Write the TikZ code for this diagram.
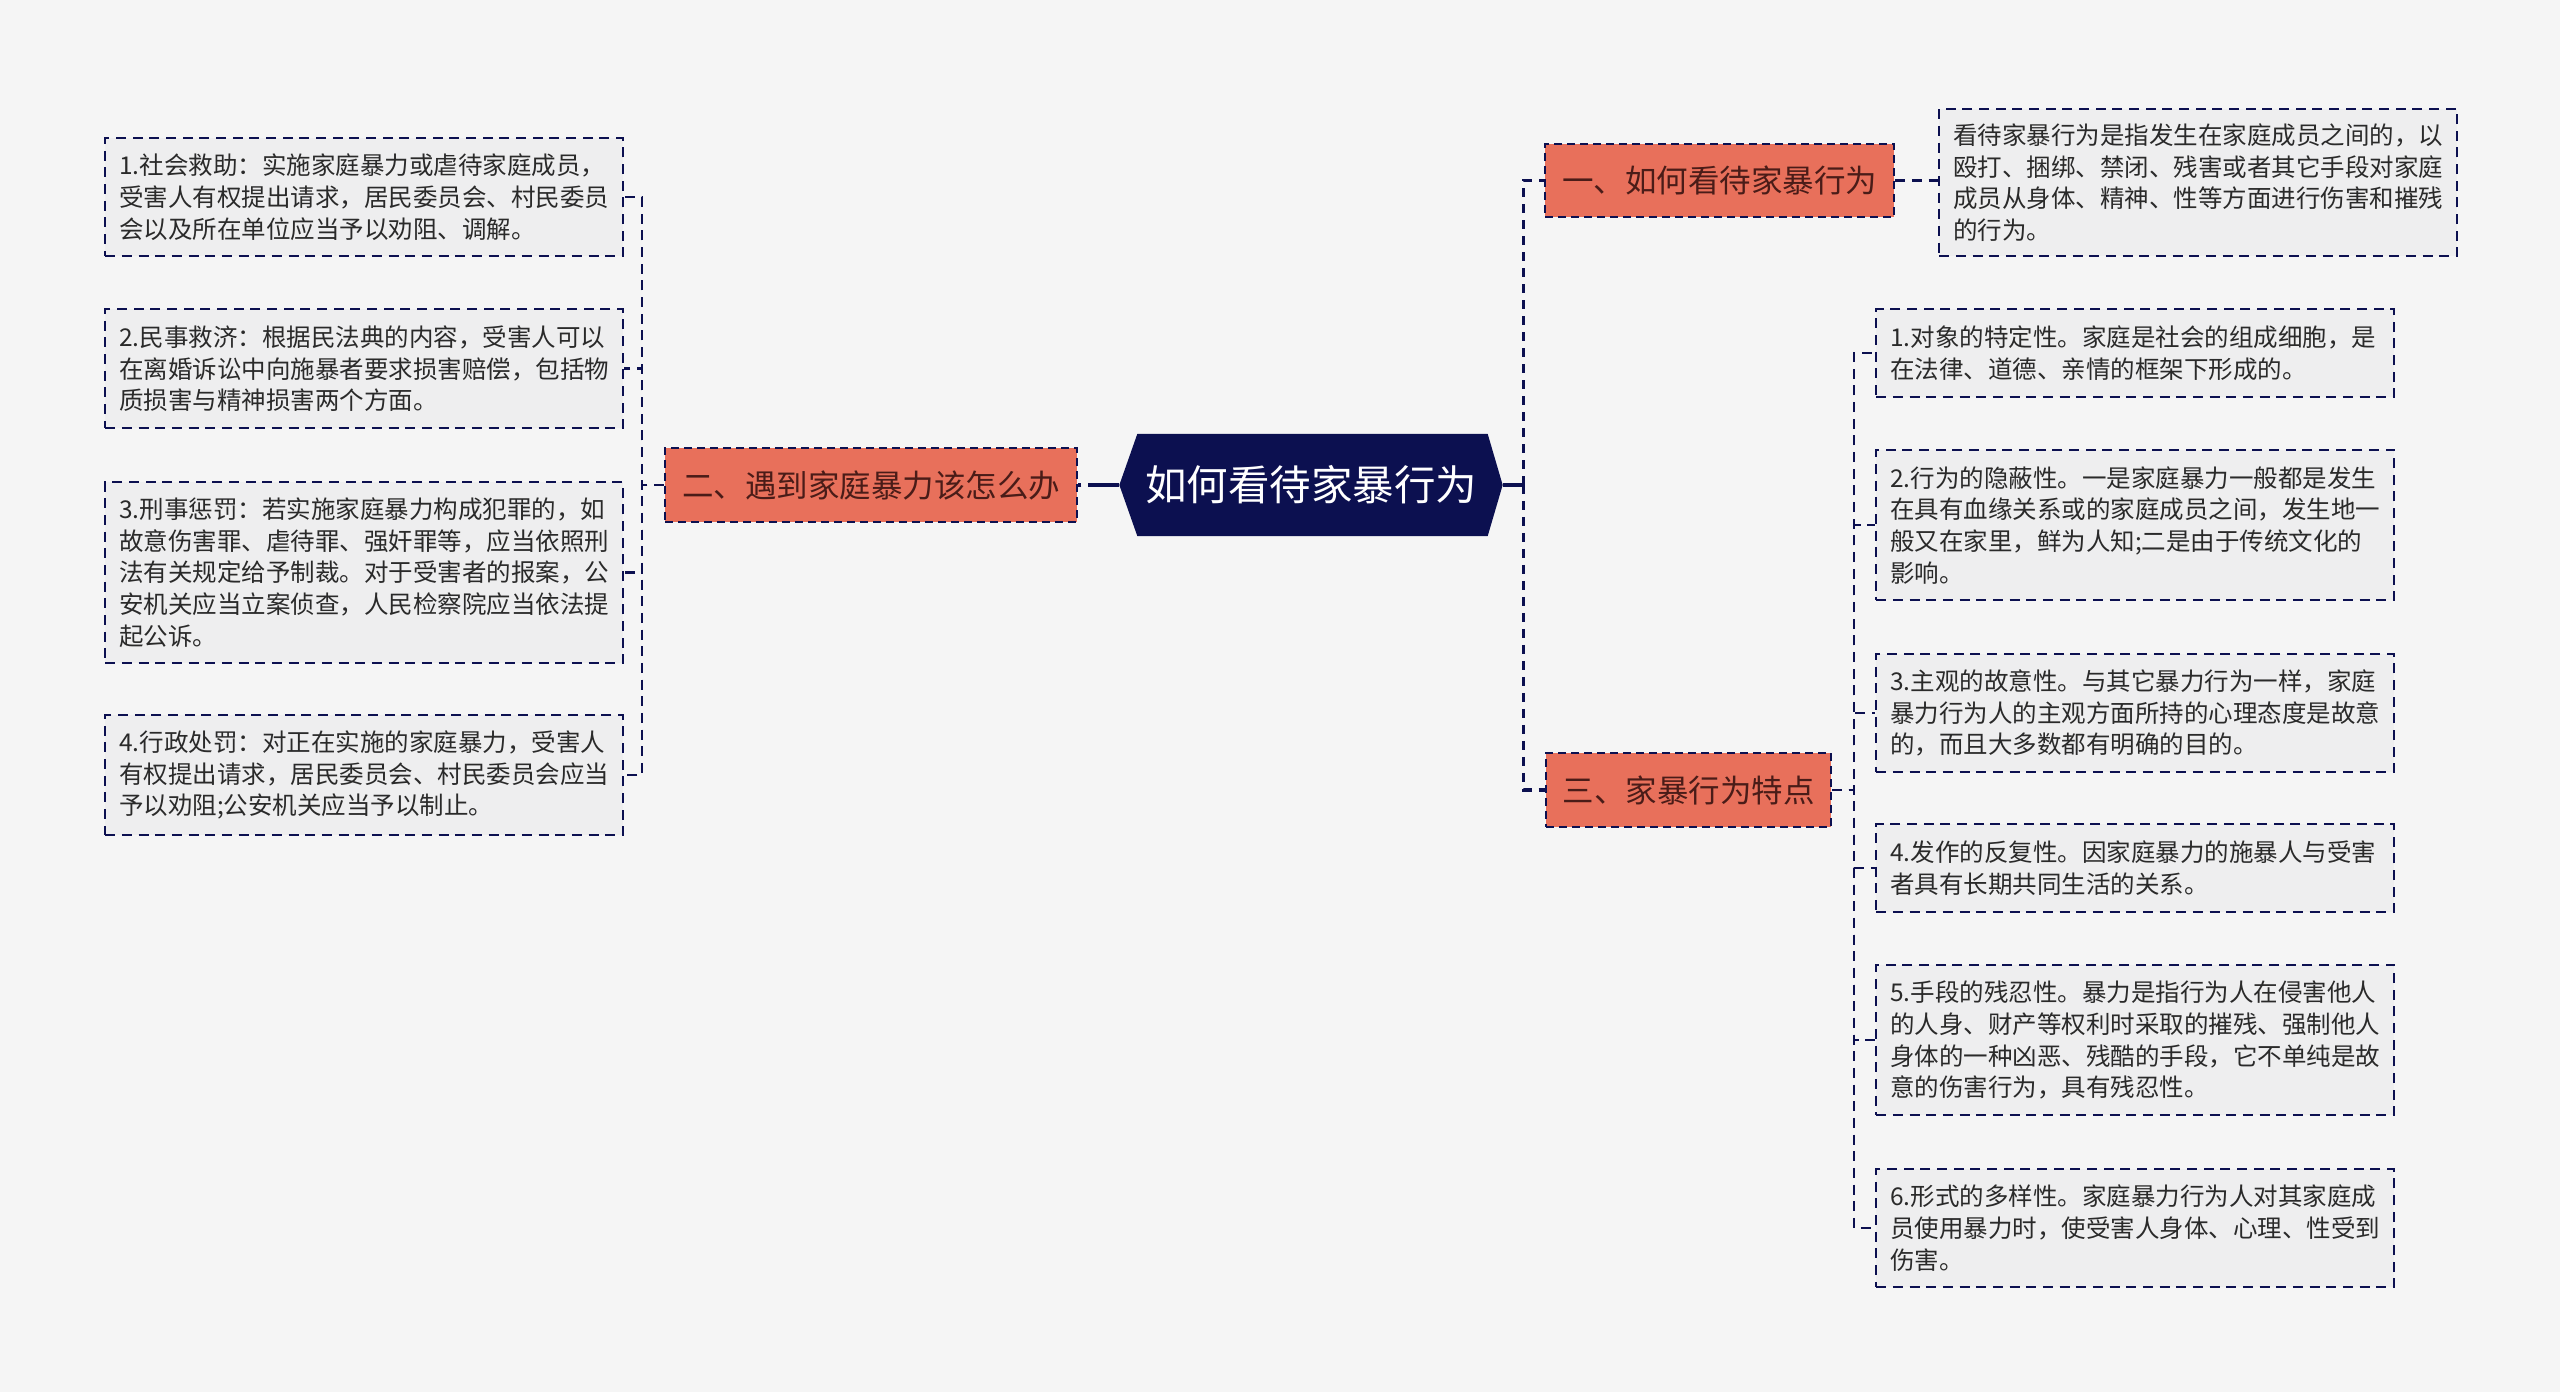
\documentclass[tikz,border=0pt]{standalone}
\usepackage{fontspec}
\setmainfont{Noto Sans CJK SC}
\usetikzlibrary{backgrounds}
\definecolor{bgcol}{HTML}{F5F5F5}
\definecolor{navy}{HTML}{0C1050}
\definecolor{coral}{HTML}{E8705B}
\definecolor{brown}{HTML}{4A1C18}
\definecolor{boxfill}{HTML}{EEEEEF}
\definecolor{txt}{HTML}{2A2A2A}
\tikzset{
  branch/.style={draw=navy, line width=0.75pt, dash pattern=on 2.4pt off 1.5pt, fill=coral, text=brown,
    inner sep=0pt, font={\fontsize{9.45}{11}\selectfont}},
  leaf/.style={draw=navy, line width=0.7pt, dash pattern=on 3pt off 2pt, fill=boxfill, text=txt,
    anchor=north west, minimum width=155.4pt, text width=147pt, inner xsep=4.2pt, inner ysep=0pt,
    align=left, font={\fontsize{7.35}{9.5}\selectfont}},
  mainsolid/.style={draw=navy, line width=1pt},
  maindash/.style={draw=navy, line width=1pt, dash pattern=on 2.7pt off 2.1pt},
  childdash/.style={draw=navy, line width=0.7pt, dash pattern=on 3pt off 2pt},
}
\begin{document}
\begin{tikzpicture}[x=0.3pt, y=-0.3pt]
\useasboundingbox (0,0) rectangle (2560,1392);

% central node
\node[inner sep=0pt, minimum width=114.6pt, minimum height=30.3pt, text=white,
      font={\fontsize{12.45}{14}\selectfont}] (c) at (1311,485) {如何看待家暴行为};

% branches
\node[branch, minimum width=104.7pt, minimum height=21.9pt] (b1) at (1719.5,180.5) {一、如何看待家暴行为};
\node[branch, minimum width=123.6pt, minimum height=22.2pt] (b2) at (871,485) {二、遇到家庭暴力该怎么办};
\node[branch, minimum width=85.5pt, minimum height=22.2pt] (b3) at (1688.5,790) {三、家暴行为特点};

% leaves, left
\node[leaf, minimum height=35.4pt] (L1) at (104,137) {1.社会救助：实施家庭暴力或虐待家庭成员，\\受害人有权提出请求，居民委员会、村民委员\\会以及所在单位应当予以劝阻、调解。};
\node[leaf, minimum height=35.7pt] (L2) at (104,308) {2.民事救济：根据民法典的内容，受害人可以\\在离婚诉讼中向施暴者要求损害赔偿，包括物\\质损害与精神损害两个方面。};
\node[leaf, minimum height=54.3pt] (L3) at (104,481) {3.刑事惩罚：若实施家庭暴力构成犯罪的，如\\故意伤害罪、虐待罪、强奸罪等，应当依照刑\\法有关规定给予制裁。对于受害者的报案，公\\安机关应当立案侦查，人民检察院应当依法提\\起公诉。};
\node[leaf, minimum height=36pt] (L4) at (104,714) {4.行政处罚：对正在实施的家庭暴力，受害人\\有权提出请求，居民委员会、村民委员会应当\\予以劝阻;公安机关应当予以制止。};

% leaves, right
\node[leaf, minimum height=44.1pt] (R0) at (1938,108) {看待家暴行为是指发生在家庭成员之间的，以\\殴打、捆绑、禁闭、残害或者其它手段对家庭\\成员从身体、精神、性等方面进行伤害和摧残\\的行为。};
\node[leaf, minimum height=26.4pt] (R1) at (1875,308) {1.对象的特定性。家庭是社会的组成细胞，是\\在法律、道德、亲情的框架下形成的。};
\node[leaf, minimum height=45pt] (R2) at (1875,449) {2.行为的隐蔽性。一是家庭暴力一般都是发生\\在具有血缘关系或的家庭成员之间，发生地一\\般又在家里，鲜为人知;二是由于传统文化的\\影响。};
\node[leaf, minimum height=35.4pt] (R3) at (1875,653) {3.主观的故意性。与其它暴力行为一样，家庭\\暴力行为人的主观方面所持的心理态度是故意\\的，而且大多数都有明确的目的。};
\node[leaf, minimum height=26.4pt] (R4) at (1875,823) {4.发作的反复性。因家庭暴力的施暴人与受害\\者具有长期共同生活的关系。};
\node[leaf, minimum height=45pt] (R5) at (1875,964) {5.手段的残忍性。暴力是指行为人在侵害他人\\的人身、财产等权利时采取的摧残、强制他人\\身体的一种凶恶、残酷的手段，它不单纯是故\\意的伤害行为，具有残忍性。};
\node[leaf, minimum height=35.4pt] (R6) at (1875,1168) {6.形式的多样性。家庭暴力行为人对其家庭成\\员使用暴力时，使受害人身体、心理、性受到\\伤害。};

\begin{pgfonlayer}{background}
  \fill[bgcol] (0,0) rectangle (2560,1392);
  \fill[navy] (c.west) -- ([xshift=5.4pt]c.north west) -- ([xshift=-4.5pt]c.north east) -- (c.east)
    -- ([xshift=-4.5pt]c.south east) -- ([xshift=5.4pt]c.south west) -- cycle;
\end{pgfonlayer}

% main connectors
\draw[mainsolid] (c.east) -- ++(21,0) coordinate (rj);
\draw[maindash] (rj) |- (b1.west);
\draw[maindash] (rj) |- (b3.west);
\draw[mainsolid] (c.west) -- ++(-22,0) coordinate (lj);
\draw[maindash] (lj) -- (b2.east);

% child connectors
\draw[childdash] (b1.east) -- (b1.east -| R0.west);
\foreach \n in {L1,L2,L3,L4}{
  \draw[childdash] (b2.west) -- ++(-22,0) |- (\n.east);
}
\foreach \n in {R1,R2,R3,R4,R5,R6}{
  \draw[childdash] (b3.east) -- ++(22,0) |- (\n.west);
}
\end{tikzpicture}
\end{document}
